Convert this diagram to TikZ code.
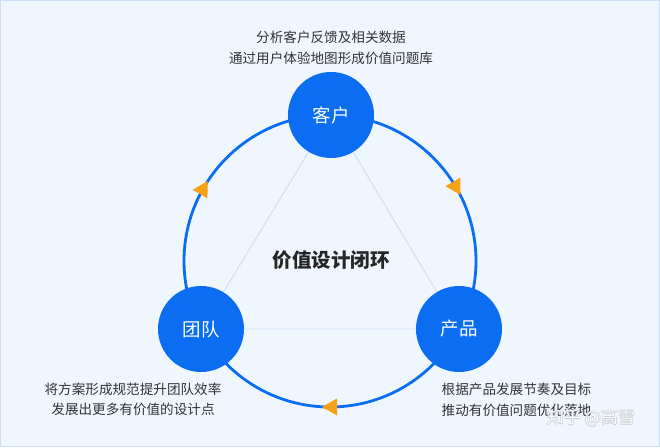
\documentclass[tikz,border=0pt]{standalone}
\usepackage{fontspec}
\setmainfont{Noto Sans CJK SC}
\definecolor{bg}{HTML}{EFF6FE}
\definecolor{frame}{HTML}{C9DDF5}
\definecolor{mainblue}{HTML}{0A6DF2}
\definecolor{tri}{HTML}{CADDF5}
\definecolor{arrowc}{HTML}{F7A116}
\definecolor{txt}{HTML}{333333}
\definecolor{wmline}{HTML}{B8BEC6}
\tikzset{
  hub/.style={circle, fill=mainblue, minimum size=86pt, inner sep=0pt, text=white, font=\fontsize{18.5}{20}\selectfont},
  note/.style={text=txt, align=center, inner sep=0pt, font=\fontsize{13.6}{20.5}\selectfont},
  ring/.style={draw=mainblue, line width=2.8pt},
  triline/.style={draw=tri, line width=0.9pt},
  flowarrow/.style={fill=arrowc},
  wmark/.style={font=\fontsize{17}{20}\selectfont, inner sep=0pt},
}
\begin{document}
\begin{tikzpicture}[x=1pt,y=1pt]
\useasboundingbox (0,0) rectangle (660,447);
\fill[bg] (0,0) rectangle (660,447);
\draw[frame, line width=1pt] (0.5,0.5) rectangle (659.5,446.5);
% node positions
\coordinate (ctr) at (330,186);
\coordinate (pk) at (331,332);
\coordinate (pt) at (201,118);
\coordinate (pc) at (459,118);
% inner triangle
\draw[triline] (pk) -- (pt) -- (pc) -- cycle;
% ring
\draw[ring] (ctr) circle[radius=146];
% hubs
\node[hub] (kehu) at (pk) {客户};
\node[hub] (tuandui) at (pt) {团队};
\node[hub] (chanpin) at (pc) {产品};
% arrows
\fill[flowarrow, shift={(456.4,259)}, rotate=-60] (8,0) -- (-7,8.5) -- (-7,-8.5) -- cycle;
\fill[flowarrow, shift={(330,40)}, rotate=180] (8,0) -- (-7,8.5) -- (-7,-8.5) -- cycle;
\fill[flowarrow, shift={(203.6,259)}, rotate=60] (8,0) -- (-7,8.5) -- (-7,-8.5) -- cycle;
% center title
\node[text=black!85, font=\fontsize{19.5}{22}\selectfont\bfseries] (title) at (331,187) {价值设计闭环};
% notes
\node[note] (ntop) at (331,399) {分析客户反馈及相关数据\\通过用户体验地图形成价值问题库};
\node[note] (nleft) at (133,47.5) {将方案形成规范提升团队效率\\发展出更多有价值的设计点};
\node[note] (nright) at (516.5,47) {根据产品发展节奏及目标\\推动有价值问题优化落地};
% watermark (white text with a faint grey outline)
\foreach \dx/\dy in {0.6/0,-0.6/0,0/0.6,0/-0.6}
  \node[wmark, text=wmline, opacity=0.7] at (591+\dx,29+\dy) {知乎 @高雪};
\node[wmark, text=white] (wm) at (591,29) {知乎 @高雪};
\end{tikzpicture}
\end{document}
